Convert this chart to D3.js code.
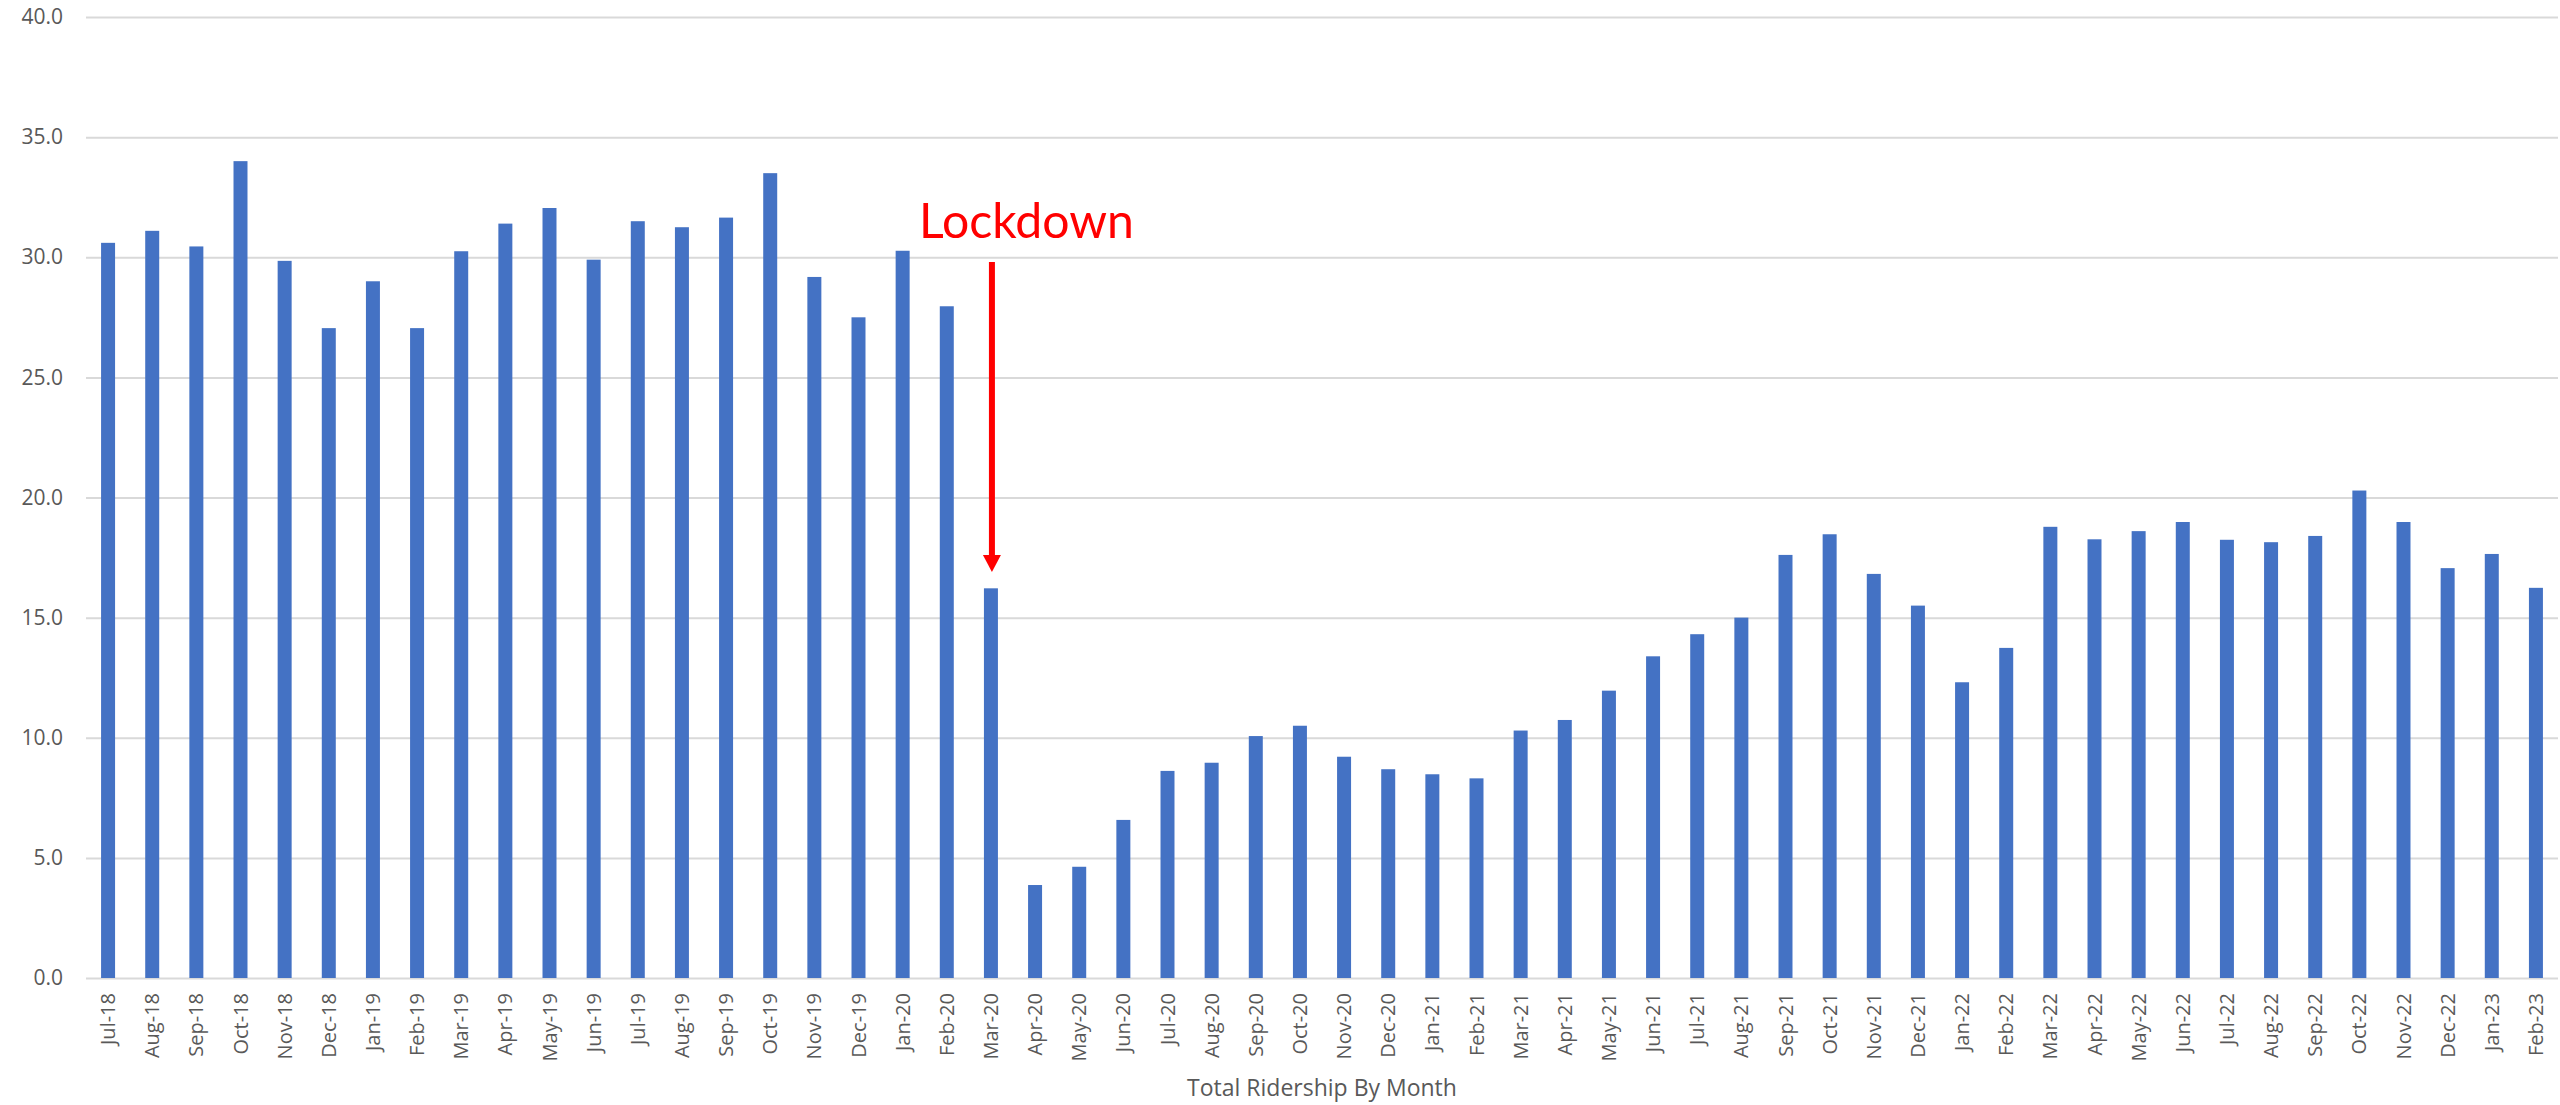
<!DOCTYPE html>
<html>
<head>
<meta charset="utf-8">
<script src="https://cdn.jsdelivr.net/npm/d3@7"></script>
<style>
  body { margin: 0; background: #fff; }
  .axis text { font-family: "Open Sans", "Noto Sans", sans-serif; fill: #595959; }
</style>
</head>
<body>
<div id="chart-area"></div>
<script>

// data
var months = ["Jul-18","Aug-18","Sep-18","Oct-18","Nov-18","Dec-18","Jan-19","Feb-19","Mar-19","Apr-19","May-19","Jun-19",
              "Jul-19","Aug-19","Sep-19","Oct-19","Nov-19","Dec-19","Jan-20","Feb-20","Mar-20","Apr-20","May-20","Jun-20",
              "Jul-20","Aug-20","Sep-20","Oct-20","Nov-20","Dec-20","Jan-21","Feb-21","Mar-21","Apr-21","May-21","Jun-21",
              "Jul-21","Aug-21","Sep-21","Oct-21","Nov-21","Dec-21","Jan-22","Feb-22","Mar-22","Apr-22","May-22","Jun-22",
              "Jul-22","Aug-22","Sep-22","Oct-22","Nov-22","Dec-22","Jan-23","Feb-23"];

var ridership = [30.6, 31.1, 30.45, 34.0, 29.85, 27.05, 29.0, 27.05, 30.25, 31.4, 32.05, 29.9,
                 31.5, 31.25, 31.65, 33.5, 29.18, 27.5, 30.27, 27.96, 16.22, 3.87, 4.63, 6.58,
                 8.62, 8.96, 10.07, 10.5, 9.21, 8.69, 8.48, 8.31, 10.3, 10.74, 11.96, 13.39,
                 14.31, 15.0, 17.61, 18.47, 16.82, 15.5, 12.31, 13.74, 18.78, 18.26, 18.6, 18.98,
                 18.24, 18.14, 18.4, 20.29, 18.98, 17.06, 17.65, 16.24];

var yTicks = [0, 5, 10, 15, 20, 25, 30, 35, 40];
var xTitle = "Total Ridership By Month";

// lockdown annotation: text + arrow from -> to (in data units)
var noteLabel = "Lockdown";
var noteMonth = "Mar-20";
var noteFrom = 29.8;
var noteTo = 16.9;
var noteText = 30.8;

// SVG drawing area
var svgW = 2560, svgH = 1105;
var plotL = 86, plotR = 2558, plotT = 17, plotB = 978;

var svg = d3.select("#chart-area").append("svg")
    .attr("width", svgW)
    .attr("height", svgH);

// Scales
var x = d3.scaleBand()
    .domain(months)
    .range([plotL, plotR])
    .paddingInner(0.683)
    .paddingOuter(0.3415);

var y = d3.scaleLinear()
    .domain([0, 40])
    .range([plotB, plotT]);

// gridlines + y labels
var yAxis = d3.axisLeft(y)
    .tickValues(yTicks)
    .tickSize(-(plotR - plotL))
    .tickPadding(23)
    .tickFormat(d3.format(".1f"));

var gy = svg.append("g")
    .attr("class", "axis y-axis")
    .attr("transform", "translate(" + plotL + ",0)")
    .call(yAxis);
gy.select(".domain").remove();
gy.selectAll("line").attr("stroke", "#d9d9d9").attr("stroke-width", 2);
gy.selectAll("text").style("font-size", "21px");

// bars
svg.selectAll("rect.bar")
    .data(ridership)
    .enter().append("rect")
    .attr("class", "bar")
    .attr("x", function(d, i) { return x(months[i]); })
    .attr("y", function(d) { return y(d); })
    .attr("width", x.bandwidth())
    .attr("height", function(d) { return y(0) - y(d); })
    .attr("fill", "#4472c4");

// x labels (rotated)
var xAxis = d3.axisBottom(x).tickSize(0).tickPadding(0);
var gx = svg.append("g")
    .attr("class", "axis x-axis")
    .attr("transform", "translate(0," + plotB + ")")
    .call(xAxis);
gx.select(".domain").remove();
gx.selectAll(".tick text")
    .attr("transform", "translate(0,15) rotate(-90)")
    .attr("x", 0)
    .attr("y", 0)
    .attr("dy", "0.35em")
    .style("text-anchor", "end")
    .style("font-size", "20px");

// x axis title
svg.append("text")
    .attr("x", (plotL + plotR) / 2)
    .attr("y", 1096)
    .attr("text-anchor", "middle")
    .style("font-family", "'Open Sans', sans-serif")
    .style("font-size", "23px")
    .style("fill", "#595959")
    .text(xTitle);

// annotation
var ax = x(noteMonth) + x.bandwidth() / 2 + 1;
svg.append("text")
    .attr("x", ax - 73)
    .attr("y", y(noteText))
    .attr("textLength", 215)
    .attr("lengthAdjust", "spacingAndGlyphs")
    .style("font-family", "Lato, 'Open Sans', sans-serif")
    .style("font-size", "49px")
    .style("fill", "#ff0000")
    .text(noteLabel);

svg.append("line")
    .attr("x1", ax).attr("x2", ax)
    .attr("y1", y(noteFrom))
    .attr("y2", y(noteTo) - 14)
    .attr("stroke", "#ff0000")
    .attr("stroke-width", 6);

svg.append("path")
    .attr("d", d3.line()([[ax - 9, y(noteTo) - 17], [ax + 9, y(noteTo) - 17], [ax, y(noteTo)]]) + "Z")
    .attr("fill", "#ff0000");

</script>
</body>
</html>
